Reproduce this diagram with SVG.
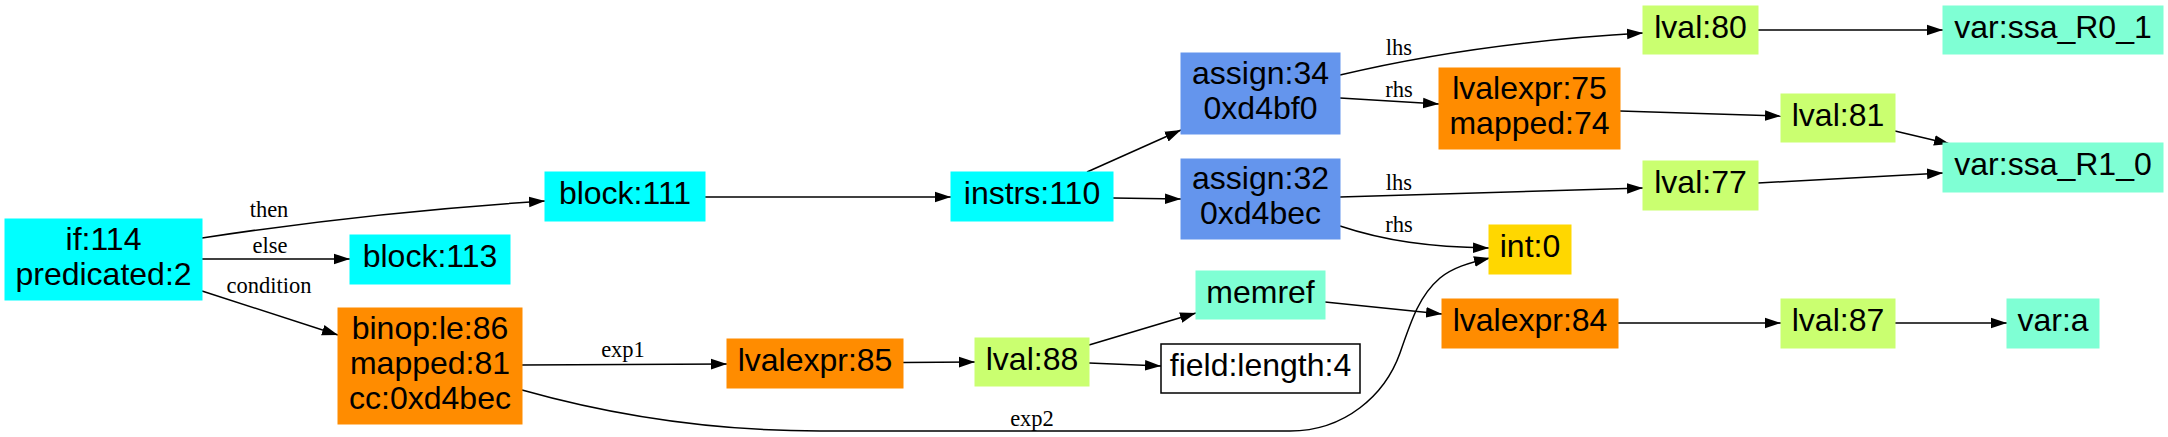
<svg xmlns="http://www.w3.org/2000/svg" width="2168" height="437" viewBox="0 0 2168 437">
<style>
.n text{font-family:"Liberation Sans",Arial,sans-serif;font-size:32px;fill:#000;text-anchor:middle}
.cy rect{fill:#00FFFF;stroke:#00FFFF}
.or rect{fill:#FF8C00;stroke:#FF8C00}
.bl rect{fill:#6495ED;stroke:#6495ED}
.gr rect{fill:#CAFF70;stroke:#CAFF70}
.aq rect{fill:#7FFFD4;stroke:#7FFFD4}
.go rect{fill:#FFD700;stroke:#FFD700}
.wh rect{fill:#FFFFFF;stroke:#000;stroke-width:1.5}
#edges path{fill:none;stroke:#000;stroke-width:1.5;marker-end:url(#arr)}
#edges text{font-family:"Liberation Serif","Times New Roman",serif;font-size:22.5px;fill:#000;text-anchor:middle}
</style>
<defs>
<marker id="arr" markerUnits="userSpaceOnUse" markerWidth="16" markerHeight="12" viewBox="0 0 15 10" refX="15" refY="5" orient="auto">
<path d="M0,0 L15,5 L0,10 z" fill="#000"/>
</marker>
</defs>
<rect width="2168" height="437" fill="#fff"/>
<g id="edges">
<path d="M202,238 C300,223 420,209 545,201"/>
<text x="269" y="217">then</text>
<path d="M202,259 L350,259"/>
<text x="270" y="253">else</text>
<path d="M202,291 L338,335"/>
<text x="269" y="293">condition</text>
<path d="M705,197 L951,197"/>
<path d="M522,365 L727,364"/>
<text x="623" y="357">exp1</text>
<path d="M522,390 C600,412 700,431 820,431 L1290,431 C1345,431 1385,395 1400,353 C1412,318 1420,295 1440,278 C1452,268 1468,263 1490,258"/>
<text x="1032" y="426">exp2</text>
<path d="M1087,172 L1181,130"/>
<path d="M1113,198 L1181,199"/>
<path d="M903,362.5 L975,362"/>
<path d="M1089,345 L1196,313"/>
<path d="M1089,363 L1161,366"/>
<path d="M1340,75 C1420,56 1520,40 1643,33"/>
<text x="1399" y="55">lhs</text>
<path d="M1340,98 L1439,104"/>
<text x="1399" y="97">rhs</text>
<path d="M1340,197 L1643,188"/>
<text x="1399" y="190">lhs</text>
<path d="M1340,226 C1385,241 1430,247 1489,248"/>
<text x="1399" y="232">rhs</text>
<path d="M1325,302 L1442,314"/>
<path d="M1758,30 L1943,30"/>
<path d="M1620,111 L1781,116"/>
<path d="M1895,131 L1950,144"/>
<path d="M1758,183 L1943,173"/>
<path d="M1618,323 L1781,323"/>
<path d="M1895,323 L2007,323"/>
</g>
<g id="if114" class="n cy"><rect x="5" y="219" width="197" height="81"/><text x="103.5" y="249.5">if:114</text><text x="103.5" y="284.5">predicated:2</text></g>
<g id="block113" class="n cy"><rect x="350" y="235" width="160" height="49"/><text x="430" y="267">block:113</text></g>
<g id="block111" class="n cy"><rect x="545" y="172" width="160" height="49"/><text x="625" y="204">block:111</text></g>
<g id="binop86" class="n or"><rect x="338" y="308" width="184" height="116"/><text x="430" y="338.5">binop:le:86</text><text x="430" y="373.5">mapped:81</text><text x="430" y="408.5">cc:0xd4bec</text></g>
<g id="instrs110" class="n cy"><rect x="951" y="172" width="162" height="49"/><text x="1032" y="204">instrs:110</text></g>
<g id="lvalexpr85" class="n or"><rect x="727" y="339" width="176" height="49"/><text x="815" y="371">lvalexpr:85</text></g>
<g id="assign34" class="n bl"><rect x="1181" y="53" width="159" height="81"/><text x="1260.5" y="83.5">assign:34</text><text x="1260.5" y="118.5">0xd4bf0</text></g>
<g id="assign32" class="n bl"><rect x="1181" y="159" width="159" height="80"/><text x="1260.5" y="189">assign:32</text><text x="1260.5" y="224">0xd4bec</text></g>
<g id="lval88" class="n gr"><rect x="975" y="338" width="114" height="48"/><text x="1032" y="369.5">lval:88</text></g>
<g id="memref" class="n aq"><rect x="1196" y="271" width="129" height="48"/><text x="1260.5" y="302.5">memref</text></g>
<g id="field" class="n wh"><rect x="1161" y="344" width="199" height="49"/><text x="1260.5" y="376">field:length:4</text></g>
<g id="lval80" class="n gr"><rect x="1643" y="6" width="115" height="48"/><text x="1700.5" y="37.5">lval:80</text></g>
<g id="lvalexpr75" class="n or"><rect x="1439" y="68" width="181" height="81"/><text x="1529.5" y="98.5">lvalexpr:75</text><text x="1529.5" y="133.5">mapped:74</text></g>
<g id="lval77" class="n gr"><rect x="1643" y="161" width="115" height="49"/><text x="1700.5" y="193">lval:77</text></g>
<g id="int0" class="n go"><rect x="1489" y="225" width="82" height="49"/><text x="1530" y="257">int:0</text></g>
<g id="lvalexpr84" class="n or"><rect x="1442" y="299" width="176" height="49"/><text x="1530" y="331">lvalexpr:84</text></g>
<g id="ssaR0_1" class="n aq"><rect x="1943" y="6" width="220" height="48"/><text x="2053" y="37.5">var:ssa_R0_1</text></g>
<g id="lval81" class="n gr"><rect x="1781" y="94" width="114" height="48"/><text x="1838" y="125.5">lval:81</text></g>
<g id="ssaR1_0" class="n aq"><rect x="1943" y="143" width="220" height="49"/><text x="2053" y="175">var:ssa_R1_0</text></g>
<g id="lval87" class="n gr"><rect x="1781" y="299" width="114" height="49"/><text x="1838" y="331">lval:87</text></g>
<g id="vara" class="n aq"><rect x="2007" y="299" width="92" height="49"/><text x="2053" y="331">var:a</text></g>
</svg>
